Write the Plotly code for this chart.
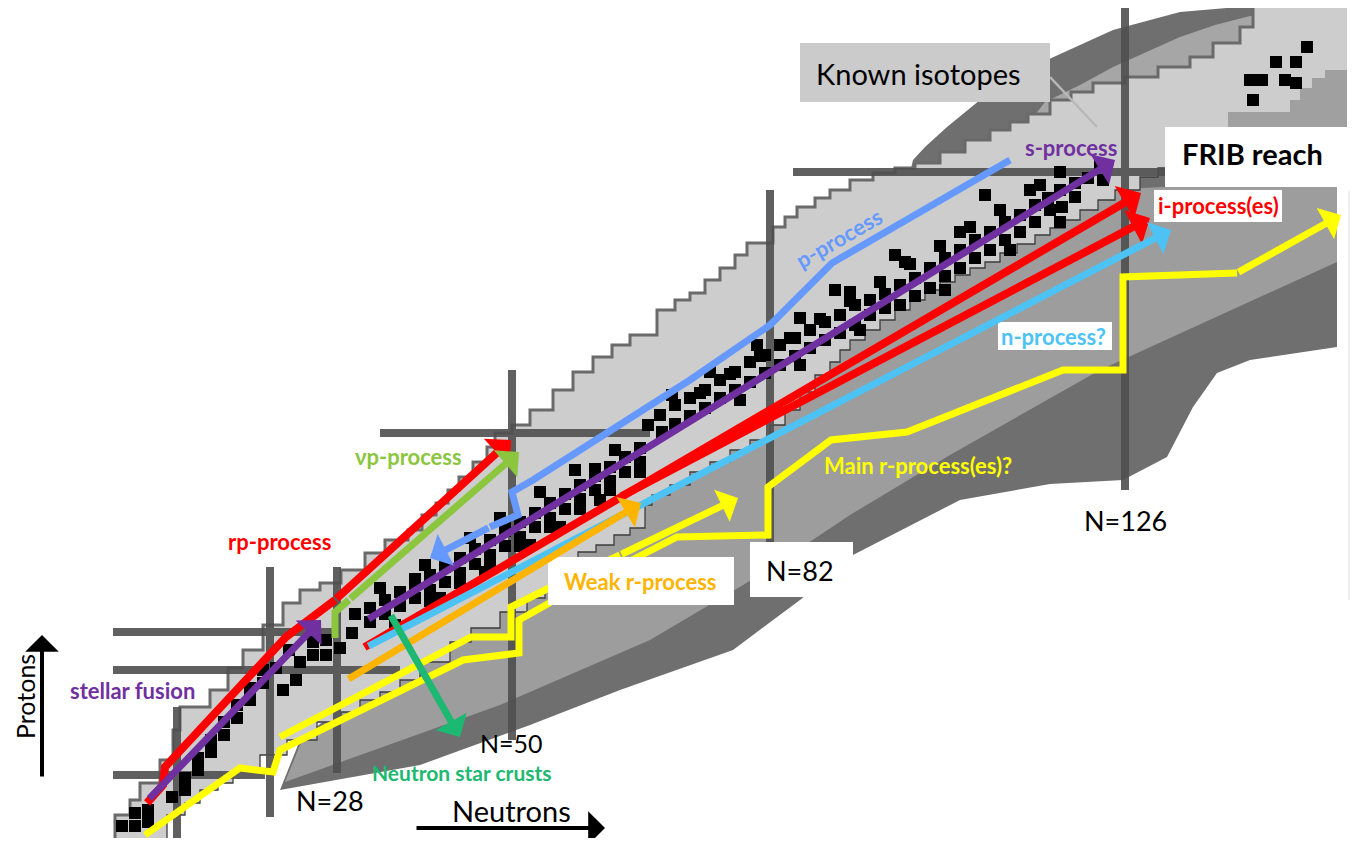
import plotly.graph_objects as go

W, H = 1362, 846
PAD = 8  # page margin of the browser body
FONT = "Lato"

# ---------------- regions (picture units: x = neutrons →, y = protons ↓)
dark_x = [280, 420, 530, 620, 733, 800, 853, 960, 1050, 1123, 1167, 1193, 1217, 1250, 1337,
          1337, 1250, 1180, 1113, 1047, 1010, 980, 947, 925, 913, 880, 600, 300]
dark_y = [790, 765, 725, 690, 650, 600, 555, 500, 484, 480, 457, 407, 373, 360, 347,
          5, 6, 12, 30, 60, 78, 100, 127, 147, 160, 300, 500, 740]
mid_x = [285, 500, 650, 760, 850, 950, 1100, 1337, 1337, 1165, 1100, 900, 600, 300]
mid_y = [782, 705, 640, 575, 515, 455, 370, 262, 187, 187, 190, 300, 480, 745]
arc_x = [1045, 1080, 1113, 1150, 1180, 1215, 1250, 1258, 1258, 1100, 1000]
arc_y = [102, 85, 67, 50, 37, 25, 16, 16, 60, 130, 160]
up_x = [115, 115, 130, 140, 160, 173, 180, 210, 228, 243, 263, 283, 300, 320, 341, 365, 385, 408,
        422, 436, 448, 459, 473, 487, 495, 512, 530, 553, 573, 593, 612, 630, 657, 675, 690, 705,
        720, 735, 747, 773, 785, 797, 815, 830, 850, 873, 895, 915, 940, 965, 990, 1010, 1028,
        1050, 1071, 1093, 1125, 1158, 1190, 1213, 1240, 1253]
up_y = [840, 815, 800, 783, 760, 730, 707, 690, 668, 650, 625, 603, 590, 583, 570, 553, 540, 530,
        515, 503, 490, 477, 462, 447, 433, 425, 410, 390, 372, 357, 345, 335, 310, 300, 293, 280,
        268, 255, 243, 227, 217, 207, 198, 190, 180, 173, 168, 163, 152, 140, 130, 122, 114,
        100, 92, 83, 77, 67, 57, 43, 27, 7]
lo_x = [115, 167, 185, 200, 218, 233, 260, 287, 317, 341, 360, 380, 400, 420, 450, 471, 500, 527,
        545, 560, 578, 596, 614, 630, 645, 652, 670, 690, 710, 730, 750, 770, 785, 800, 815, 830,
        840, 850, 865, 880, 895, 910, 925, 940, 955, 970, 985, 1000, 1017, 1035, 1050, 1065, 1080,
        1098, 1115, 1140, 1158, 1175]
lo_y = [840, 840, 815, 803, 790, 783, 770, 755, 740, 722, 712, 700, 692, 680, 662, 642, 628, 612,
        598, 588, 562, 552, 545, 535, 528, 505, 495, 485, 472, 462, 450, 440, 425, 410, 392, 375,
        362, 350, 340, 330, 320, 310, 300, 290, 282, 275, 268, 262, 253, 244, 235, 228, 220,
        210, 200, 190, 177, 168]
tr_x = [1228, 1228, 1280, 1290, 1300, 1312, 1325, 1347, 1347]
tr_y = [127, 112, 112, 100, 88, 78, 70, 70, 127]

# magic-number lines
magic_v_x = [177, 270, 337, 512, 770, 1125]
magic_v_y0 = [707, 567, 567, 370, 190, 7]
magic_v_y1 = [840, 817, 773, 740, 548, 490]
magic_h_y = [775, 670, 632, 433, 172]
magic_h_x0 = [113, 113, 113, 380, 793]
magic_h_x1 = [265, 400, 335, 650, 1167]

# stable isotopes (black squares)
stable_x = [122, 135, 148, 135, 148,
            172, 185, 185, 198, 198, 211, 211, 224, 224, 237, 237, 250, 250, 263, 263, 276,
            283, 296, 300, 313, 313, 326, 340, 352, 289, 326,
            355, 370, 370, 385, 385, 400, 400, 415, 415, 430, 430, 445, 445, 460, 460, 475, 475,
            490, 490, 505, 505, 520, 520, 535, 535, 550, 550, 565, 565, 580, 580, 595, 595, 610,
            610, 625, 625, 640, 640,
            380, 425, 470, 500, 540, 575, 615, 395, 440, 485, 530, 560, 600,
            430, 460, 490, 520, 550, 580, 610, 640, 415, 505, 595,
            1100, 1088, 1103, 1075, 1060, 1075, 1048, 1035, 1050, 1062, 1020, 1035, 1005, 1020,
            990, 1005, 975, 990, 960, 975, 945, 960, 930, 945, 915, 930, 900, 915, 885, 870, 885,
            855, 870, 840, 855, 825, 840, 810, 825, 795, 810, 780, 795, 765, 780, 750, 765, 735,
            750, 720, 735, 705, 720, 690, 705, 675, 690, 660, 675, 648, 662,
            1040, 1000, 960, 905, 850, 800, 757, 710, 672, 1060, 1010, 945, 900, 860, 800, 740,
            700, 730, 760, 790, 820, 850, 880, 910, 940, 970, 1030, 1060, 835, 895, 985,
            1307, 1276, 1296, 1250, 1262, 1285, 1296, 1253]
stable_y = [826, 826, 822, 813, 810,
            797, 790, 778, 770, 758, 752, 740, 735, 722, 718, 705, 700, 688, 683, 670, 668,
            690, 680, 662, 655, 642, 640, 648, 633, 650, 655,
            614, 608, 622, 600, 614, 592, 606, 584, 598, 575, 590, 567, 582, 558, 573, 549, 564,
            540, 555, 531, 546, 522, 537, 513, 527, 503, 518, 494, 509, 485, 499, 476, 490, 467,
            481, 457, 472, 448, 462,
            588, 565, 538, 518, 492, 470, 450, 625, 598, 572, 545, 527, 500,
            601, 583, 564, 546, 527, 509, 490, 472, 579, 524, 469,
            165, 178, 180, 183, 190, 197, 198, 205, 210, 207, 215, 222, 222, 232,
            232, 240, 240, 250, 250, 258, 258, 268, 268, 276, 278, 288, 285, 296, 294, 300, 308,
            305, 315, 315, 325, 322, 333, 330, 340, 338, 348, 345, 356, 355, 365, 362, 373, 372,
            382, 380, 390, 390, 398, 398, 408, 405, 416, 415, 424, 425, 432,
            185, 210, 232, 262, 292, 318, 345, 372, 395, 222, 250, 290, 305, 330, 365, 400,
            393, 374, 356, 338, 319, 301, 282, 264, 246, 227, 190, 172, 290, 255, 195,
            47, 62, 62, 80, 80, 80, 83, 100]

# process paths (polylines; the last point is the arrow tip)
main_r_x = [145, 240, 273, 280, 463, 519, 519, 560, 677, 768, 768, 831, 907, 1063, 1123, 1123, 1237, 1341]
main_r_y = [835, 768, 772, 750, 660, 653, 620, 597, 537, 535, 487, 440, 432, 370, 370, 277, 273, 215]
weak_y_x = [280, 471, 511, 511, 545, 620, 738]
weak_y_y = [737, 637, 637, 607, 590, 555, 498]
p_proc_x = [1010, 832, 770, 690, 533, 512, 518, 490, 430]
p_proc_y = [160, 263, 325, 380, 480, 492, 515, 527, 558]
rp_x = [147, 163, 165, 286, 335, 511]
rp_y = [803, 785, 767, 637, 600, 440]
vp_x = [335, 335, 349, 519]
vp_y = [638, 612, 600, 452]
weak_orange = [(347, 680), (641, 503)]
ns_crust = [(390, 614), (460, 737)]
n_proc = [(367, 647), (1171, 230)]
i_proc_lo = [(620, 497), (1150, 218)]
i_proc_hi = [(363, 648), (1141, 193)]
s_proc = [(367, 620), (1115, 160)]
fusion = [(148, 800), (321, 620)]
protons_axis = [(42, 778), (42, 635)]
neutrons_axis = [(415, 828), (605, 828)]

RED, PURPLE, BLUE, CYAN = "#ff0000", "#7030a0", "#6699ff", "#4dc3f5"
ORANGE, YELLOW, LGREEN, DGREEN = "#ffb400", "#ffff00", "#8cc63f", "#1db872"

fig = go.Figure()

def poly(x, y, color, shape="linear"):
    fig.add_trace(go.Scatter(x=x, y=y, mode="lines", fill="toself", fillcolor=color,
                             line=dict(width=0, color=color, shape=shape), hoverinfo="skip"))

poly(dark_x, dark_y, "#6f6f6f")
poly(mid_x, mid_y, "#9d9d9d")
poly(arc_x, arc_y, "#a6a6a6")
known_x = up_x + [1347, 1347, 1175] + lo_x[::-1]
known_y = up_y + [7, 127, 127] + lo_y[::-1]
poly(known_x, known_y, "#cdcdcd", shape="hv")
poly(tr_x, tr_y, "#a0a0a0", shape="hv")

fig.add_trace(go.Scatter(x=up_x, y=up_y, mode="lines", hoverinfo="skip",
                         line=dict(color="#6a6a6a", width=3, shape="hv")))
fig.add_trace(go.Scatter(x=lo_x, y=lo_y, mode="lines", hoverinfo="skip",
                         line=dict(color="#3c3c3c", width=1.3, shape="vh")))

mx, my = [], []
for x, y0, y1 in zip(magic_v_x, magic_v_y0, magic_v_y1):
    mx += [x, x, None]
    my += [y0, y1, None]
for y, x0, x1 in zip(magic_h_y, magic_h_x0, magic_h_x1):
    mx += [x0, x1, None]
    my += [y, y, None]
fig.add_trace(go.Scatter(x=mx, y=my, mode="lines", hoverinfo="skip", opacity=0.9,
                         line=dict(color="#4f4f4f", width=8)))

fig.add_trace(go.Scatter(x=stable_x, y=stable_y, mode="markers", hoverinfo="skip",
                         marker=dict(symbol="square", size=12, color="black",
                                     line=dict(width=0))))

fig.add_trace(go.Scatter(x=[1050, 1097], y=[77, 127], mode="lines", hoverinfo="skip",
                         line=dict(color="#b8b8b8", width=2.5)))
fig.add_trace(go.Scatter(x=[1349, 1349], y=[190, 600], mode="lines", hoverinfo="skip",
                         line=dict(color="#e0e0e0", width=1)))

for xs, ys, col, wd in [(main_r_x, main_r_y, YELLOW, 7), (weak_y_x, weak_y_y, YELLOW, 7),
                        (p_proc_x, p_proc_y, BLUE, 7), (rp_x, rp_y, RED, 8),
                        (vp_x, vp_y, LGREEN, 7)]:
    fig.add_trace(go.Scatter(x=xs[:-1], y=ys[:-1], mode="lines", hoverinfo="skip",
                             line=dict(color=col, width=wd)))

ann = []

def arrow(tail, tip, color, width=7, size=0.85):
    ann.append(dict(x=tip[0], y=tip[1], ax=tail[0], ay=tail[1], xref="x", yref="y",
                    axref="x", ayref="y", text="", showarrow=True, arrowhead=1,
                    arrowsize=size, arrowwidth=width, arrowcolor=color))

arrow((main_r_x[-2], main_r_y[-2]), (main_r_x[-1], main_r_y[-1]), YELLOW)
arrow((weak_y_x[-2], weak_y_y[-2]), (weak_y_x[-1], weak_y_y[-1]), YELLOW)
arrow(*i_proc_lo, RED, 8, 0.8)
arrow(*i_proc_hi, RED, 8, 0.8)
arrow(*n_proc, CYAN)
arrow(*weak_orange, ORANGE)
arrow(*s_proc, PURPLE)
arrow((p_proc_x[-2], p_proc_y[-2]), (p_proc_x[-1], p_proc_y[-1]), BLUE)
arrow((rp_x[-2], rp_y[-2]), (rp_x[-1], rp_y[-1]), RED, 8, 0.8)
arrow((vp_x[-2], vp_y[-2]), (vp_x[-1], vp_y[-1]), LGREEN)
arrow(*fusion, PURPLE)
arrow(*ns_crust, DGREEN)
arrow(*protons_axis, "black", 4, 1.4)
arrow(*neutrons_axis, "black", 4, 1.4)

def label(x, y, text, color="black", size=22, bold=True, angle=0):
    ann.append(dict(x=x, y=y, xref="x", yref="y", text=f"<b>{text}</b>" if bold else text,
                    showarrow=False, textangle=angle,
                    font=dict(family=FONT, size=size, color=color)))

label(918, 73, "Known isotopes", size=29, bold=False)
label(1252, 153, "FRIB reach", size=29)
label(1071, 147, "s-process", PURPLE)
label(1218, 205, "i-process(es)", RED)
label(838, 238, "p-process", BLUE, angle=-30)
label(1053, 336, "n-process?", CYAN)
label(918, 465, "Main r-process(es)?", YELLOW)
label(1125, 520, "N=126", size=27, bold=False)
label(800, 570, "N=82", size=27, bold=False)
label(640, 581, "Weak r-process", ORANGE)
label(408, 456, "νp-process", LGREEN)
label(279, 541, "rp-process", RED)
label(132, 690, "stellar fusion", PURPLE)
label(511, 743, "N=50", size=25, bold=False)
label(462, 772, "Neutron star crusts", DGREEN, 21)
label(330, 800, "N=28", size=27, bold=False)
label(25, 697, "Protons", size=25, bold=False, angle=-90)
label(511, 810, "Neutrons", size=29, bold=False)

boxes = [
    (800, 1050, 43, 102, "#cbcbcb"),
    (1165, 1340, 127, 187, "white"),
    (1154, 1282, 190, 222, "white"),
    (998, 1112, 322, 350, "white"),
    (750, 853, 542, 597, "white"),
    (548, 734, 557, 605, "white"),
]
shapes = [dict(type="rect", x0=a, x1=b, y0=c, y1=d, fillcolor=col, line=dict(width=0),
               layer="above", xref="x", yref="y") for a, b, c, d, col in boxes]

# the page body adds an 8 px margin: shrink the figure and shift the ranges so that
# picture coordinates land on the same screen pixels
fig.update_layout(
    width=W - 2 * PAD, height=H - 2 * PAD, margin=dict(l=0, r=0, t=0, b=0),
    paper_bgcolor="white", plot_bgcolor="white", showlegend=False,
    xaxis=dict(range=[PAD, W - PAD], visible=False, fixedrange=True),
    yaxis=dict(range=[H - PAD, PAD], visible=False, fixedrange=True),
    annotations=ann, shapes=shapes,
)
fig.write_html("out.html")
